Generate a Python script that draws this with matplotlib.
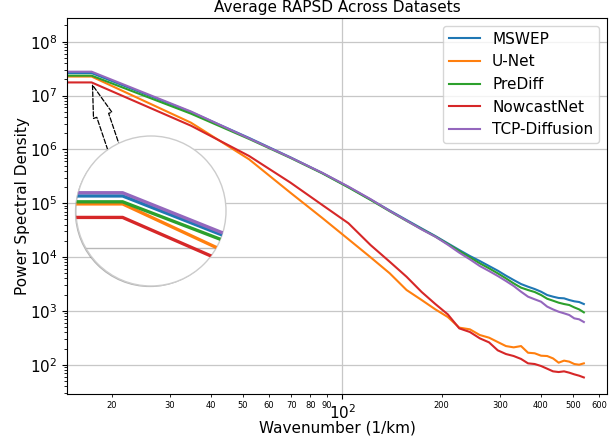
import matplotlib
matplotlib.use("Agg")
import matplotlib.pyplot as plt
import matplotlib.ticker as mticker
import matplotlib.patheffects as pe
from matplotlib.patches import Circle
import numpy as np

# ---------------- data ----------------
wavenumber = [0, 17.4, 34.8, 52.2, 69.6, 87.0, 104.4, 121.8, 139.2, 156.6, 174.0,
              191.4, 208.8, 226.2, 243.6, 261.0, 278.4, 295.8, 313.2, 330.6, 348.0,
              365.4, 382.8, 400.2, 417.6, 435.0, 452.4, 469.8, 487.2, 504.6, 522.0, 539.4]

mswep = [1.32e8, 2.61e7, 4.94e6, 1.63e6, 7.13e5, 3.64e5, 2.00e5, 1.17e5, 7.31e4, 4.87e4, 3.39e4,
         24550, 17950, 13490, 10440, 8430, 6810, 5580, 4510, 3740, 3155,
         2810, 2545, 2270, 1970, 1835, 1735, 1710, 1590, 1505, 1460, 1340]

unet = [1.10e8, 2.25e7, 3.13e6, 6.53e5, 1.57e5, 5.31e4, 2.14e4, 9.9e3, 4.99e3, 2.44e3, 1.59e3,
        1067, 769, 488, 454, 356, 318, 264, 222, 210, 222,
        167, 163, 147, 145, 131, 109, 119, 114, 103, 100, 106]

prediff = [1.20e8, 2.34e7, 4.60e6, 1.56e6, 6.95e5, 3.58e5, 1.96e5, 1.15e5, 7.10e4, 4.70e4, 3.30e4,
           24000, 17460, 12940, 9860, 7640, 6170, 4980, 4020, 3240, 2700,
           2440, 2240, 1970, 1680, 1545, 1420, 1340, 1285, 1160, 1065, 938]

nowcastnet = [0.90e8, 1.75e7, 2.75e6, 7.53e5, 2.42e5, 9.25e4, 4.24e4, 1.67e4, 8.18e3, 4.30e3, 2.24e3,
              1340, 861, 473, 405, 309, 260, 185, 158, 145, 128,
              106, 103, 94.6, 84.3, 75.3, 73.1, 75.3, 71.1, 66.2, 62.5, 58]

tcp_diffusion = [1.25e8, 2.77e7, 5.05e6, 1.60e6, 7.07e5, 3.66e5, 2.03e5, 1.19e5, 7.20e4, 4.75e4, 3.25e4,
                 23880, 16940, 12050, 9060, 6810, 5500, 4450, 3590, 2900, 2270,
                 1835, 1640, 1480, 1200, 1065, 965, 900, 838, 726, 697, 621]

labels = ["MSWEP", "U-Net", "PreDiff", "NowcastNet", "TCP-Diffusion"]
colors = ["#1f77b4", "#ff7f0e", "#2ca02c", "#d62728", "#9467bd"]
series = [mswep, unet, prediff, nowcastnet, tcp_diffusion]

# ---------------- figure ----------------
fig = plt.figure(figsize=(6.12, 4.42), dpi=100)
ax = fig.add_axes([0.1095, 0.1086, 0.8823, 0.8507])

for vals, lab, col in zip(series, labels, colors):
    ax.plot(wavenumber, vals, color=col, lw=1.5, label=lab)

ax.set_xscale("log")
ax.set_yscale("log")
ax.set_xlim(10 ** 1.166, 10 ** 2.802)
ax.set_ylim(10 ** 1.456, 10 ** 8.44)

ax.grid(True, which="major", color="0.78", lw=0.9)
ax.xaxis.set_minor_formatter(mticker.FuncFormatter(lambda v, p: f"{v:g}"))
ax.tick_params(axis="x", which="minor", labelsize=6)
ax.tick_params(axis="both", which="major", labelsize=11)

ax.set_title("Average RAPSD Across Datasets", fontsize=11, pad=4)
ax.set_xlabel("Wavenumber (1/km)", fontsize=11, labelpad=-1.5)
ax.set_ylabel("Power Spectral Density", fontsize=11, labelpad=0)
ax.legend(loc="upper right", fontsize=11)

# ---------------- circular zoom inset ----------------
axins = fig.add_axes([76 / 612, (442 - 286) / 442, 150 / 612, 150 / 442])
axins.set_xscale("log")
axins.set_yscale("log")
axins.patch.set_visible(False)
for s in axins.spines.values():
    s.set_visible(False)

circle = Circle((0.5, 0.5), 0.5, transform=axins.transAxes, facecolor="white",
                edgecolor="0.8", lw=1.0, zorder=-1)
circle.set_path_effects([pe.SimplePatchShadow(offset=(-0.8, -0.8), shadow_rgbFace="0.4", alpha=0.5),
                         pe.Normal()])
circle.set_clip_on(False)
axins.add_patch(circle)

for vals, col in zip(series, colors):
    ln, = axins.plot(wavenumber, vals, color=col, lw=2.4)
    ln.set_clip_path(circle)

axins.set_xlim(10 ** 1.179, 10 ** 1.377)
axins.set_ylim(10 ** 6.689, 10 ** 7.901)
axins.grid(True, which="major", axis="y", color="0.72", lw=1.0)
axins.yaxis.set_major_formatter(mticker.NullFormatter())
axins.yaxis.set_minor_formatter(mticker.NullFormatter())
axins.tick_params(left=False, which="both", labelleft=False)
axins.xaxis.set_visible(False)
for t in axins.yaxis.get_major_ticks():
    t.gridline.set_clip_path(circle)

# dashed arrow from the inset to the zoomed region
ax.annotate("", xy=(wavenumber[1], nowcastnet[1]), xycoords="data",
            xytext=(0.265, 0.88), textcoords=axins.transAxes,
            arrowprops=dict(arrowstyle="simple,head_length=23,head_width=14,tail_width=9",
                            mutation_scale=1, fill=False, ls="--", lw=0.9, ec="black",
                            shrinkA=0, shrinkB=2))

fig.savefig("out.png", dpi=100)
